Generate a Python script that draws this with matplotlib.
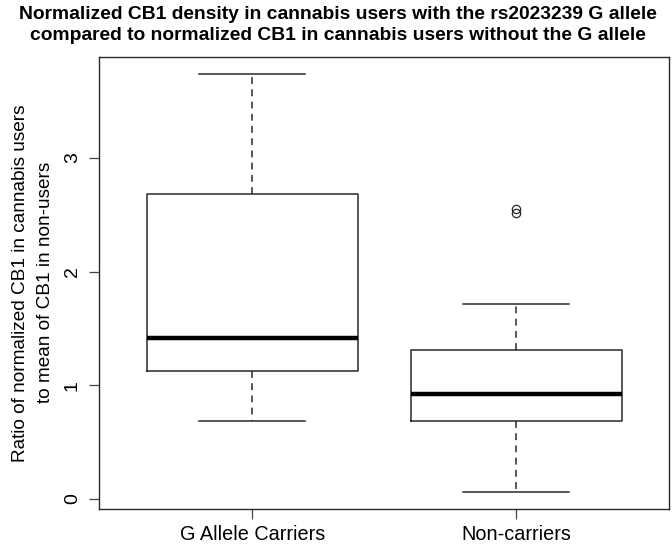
import matplotlib
matplotlib.use("Agg")
import matplotlib.pyplot as plt

groups = ["G Allele Carriers", "Non-carriers"]
whisker_low = [0.69, 0.064]
q1 = [1.125, 0.682]
medians = [1.415, 0.925]
q3 = [2.68, 1.315]
whisker_high = [3.74, 1.716]
outliers = [[], [2.513, 2.548]]
yticks = [0, 1, 2, 3]

plt.rcParams['font.family'] = ['Liberation Sans', 'DejaVu Sans']

fig = plt.figure(figsize=(6.72, 5.47), dpi=100)
ax = fig.add_axes([99 / 672, 1 - 508.5 / 547, (669.3 - 99) / 672, (508.5 - 57) / 547])

stats = []
for i in range(len(groups)):
	stats.append(dict(label=groups[i], whislo=whisker_low[i], q1=q1[i], med=medians[i],
					  q3=q3[i], whishi=whisker_high[i], fliers=outliers[i]))

edge = '#2a2a2a'
ax.bxp(stats, positions=[1, 2], widths=0.8,
	   boxprops=dict(color=edge, linewidth=1.1),
	   medianprops=dict(color='black', linewidth=3.2, solid_capstyle='butt'),
	   whiskerprops=dict(color=edge, linewidth=1.1, dashes=(4.5, 3.5)),
	   capprops=dict(color=edge, linewidth=1.1),
	   capwidths=0.4,
	   flierprops=dict(marker='o', markerfacecolor='none', markeredgecolor=edge,
					   markersize=6, markeredgewidth=0.9, linestyle='none'))

# R-style 4% axis extension
allv = whisker_low + whisker_high + [v for o in outliers for v in o]
lo, hi = min(allv), max(allv)
pad = 0.04 * (hi - lo)
ax.set_ylim(lo - pad, hi + pad)
ax.set_xlim(0.5 - 0.08, len(groups) + 0.5 + 0.08)

ax.set_yticks(yticks)
ax.set_yticklabels([str(t) for t in yticks], rotation=90, va='center')
ax.set_xticks([1, 2])
ax.set_xticklabels(groups)
ax.tick_params(direction='out', length=7, width=0.9, color='#444444', labelsize=14, pad=5)
ax.tick_params(axis='y', pad=6, labelsize=14)
ax.tick_params(axis='x', labelsize=14.3)
for s in ax.spines.values():
	s.set_color(edge)
	s.set_linewidth(1.0)

ax.set_ylabel("Ratio of normalized CB1 in cannabis users\nto mean of CB1 in non-users",
			  fontsize=13.7, linespacing=1.6, labelpad=7)

fig.text(0.503, 1 - 6 / 547,
		 "Normalized CB1 density in cannabis users with the rs2023239 G allele\n"
		 "compared to normalized CB1 in cannabis users without the G allele",
		 ha='center', va='top', fontsize=13.9, fontweight='bold', linespacing=1.32)

fig.savefig("out.png", dpi=100)
